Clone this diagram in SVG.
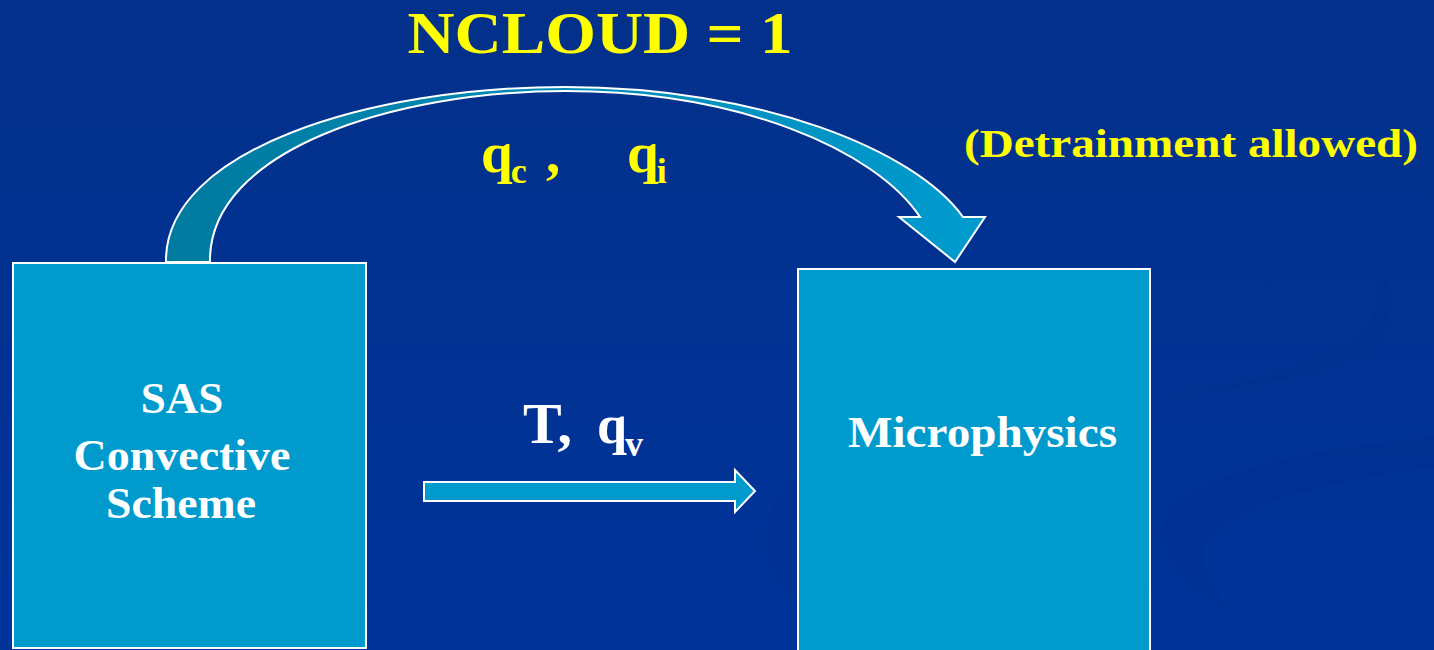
<svg xmlns="http://www.w3.org/2000/svg" width="1434" height="650" viewBox="0 0 1434 650">
  <defs>
    <linearGradient id="bg" x1="0" y1="0" x2="0" y2="1">
      <stop offset="0" stop-color="#03308a"/>
      <stop offset="1" stop-color="#00349b"/>
    </linearGradient>
    <linearGradient id="arc" x1="166" y1="0" x2="985" y2="0" gradientUnits="userSpaceOnUse">
      <stop offset="0" stop-color="#007a9f"/>
      <stop offset="0.5" stop-color="#008bb8"/>
      <stop offset="1" stop-color="#009bce"/>
    </linearGradient>
    <style>
      .box { fill: #009acc; stroke: #ffffff; stroke-width: 2; }
      .arrow { stroke: #ffffff; stroke-width: 2; stroke-linejoin: miter; }
      .t { font-family: "Liberation Serif", "Times New Roman", serif; font-weight: bold; }
      .y { fill: #ffff00; }
      .w { fill: #ffffff; }
      .swirl { fill: #002f8c; opacity: 0.4; }
    </style>
  </defs>

  <rect width="1434" height="650" fill="url(#bg)"/>
  <g id="background-swirls">
    <path class="swirl" d="M1434,437 C1300,450 1190,475 1165,517 C1150,555 1185,590 1240,620 C1210,590 1195,560 1208,540 C1240,500 1340,480 1434,467 Z"/>
    <path class="swirl" d="M795,480 C770,500 755,540 775,575 C785,595 795,605 800,610 L800,470 Z"/>
    <path class="swirl" d="M1368,250 C1385,290 1380,330 1345,350 C1300,372 1240,385 1165,395 C1250,388 1320,375 1362,352 C1400,325 1398,285 1372,250 Z"/>
  </g>

  <g id="title">
    <text class="t y" x="600" y="53" font-size="60" text-anchor="middle" textLength="385" lengthAdjust="spacingAndGlyphs">NCLOUD = 1</text>
  </g>

  <g id="note">
    <text class="t y" x="964" y="157" font-size="39" textLength="454" lengthAdjust="spacingAndGlyphs">(Detrainment allowed)</text>
  </g>

  <g id="connectors">
    <path id="arc-arrow" class="arrow" fill="url(#arc)" d="M166,262 C164,150 370,87 565,87 C760,87 915,150 963,217 L985,217 L955,262 L899,217 L920,217 C875,150 740,91 565,91 C395,91 208,150 210,262 Z"/>
    <path id="straight-arrow" class="arrow" fill="#009acc" d="M424,482 L735,482 L735,470 L755,491 L735,512 L735,501 L424,501 Z"/>
  </g>

  <g id="label-qc-qi">
    <text class="t y" x="481" y="172" font-size="57">q<tspan dx="-2" dy="11" font-size="36">c</tspan></text>
    <text class="t y" x="546" y="172" font-size="57">,</text>
    <text class="t y" x="627" y="172" font-size="57">q<tspan dx="-2" dy="11" font-size="36">i</tspan></text>
  </g>

  <g id="label-T-qv">
    <text class="t w" x="523" y="443" font-size="58">T,</text>
    <text class="t w" x="597" y="443" font-size="54">q<tspan dx="-2" dy="13" font-size="36">v</tspan></text>
  </g>

  <g id="node-sas">
    <rect class="box" x="13" y="263" width="353" height="385"/>
    <text class="t w" x="182" y="413" font-size="45" text-anchor="middle">SAS</text>
    <text class="t w" x="182" y="470" font-size="45" text-anchor="middle" textLength="217" lengthAdjust="spacingAndGlyphs">Convective</text>
    <text class="t w" x="181" y="518" font-size="45" text-anchor="middle" textLength="150" lengthAdjust="spacingAndGlyphs">Scheme</text>
  </g>

  <g id="node-microphysics">
    <rect class="box" x="798" y="269" width="352" height="385"/>
    <text class="t w" x="848" y="447" font-size="45" textLength="269" lengthAdjust="spacingAndGlyphs">Microphysics</text>
  </g>
</svg>
